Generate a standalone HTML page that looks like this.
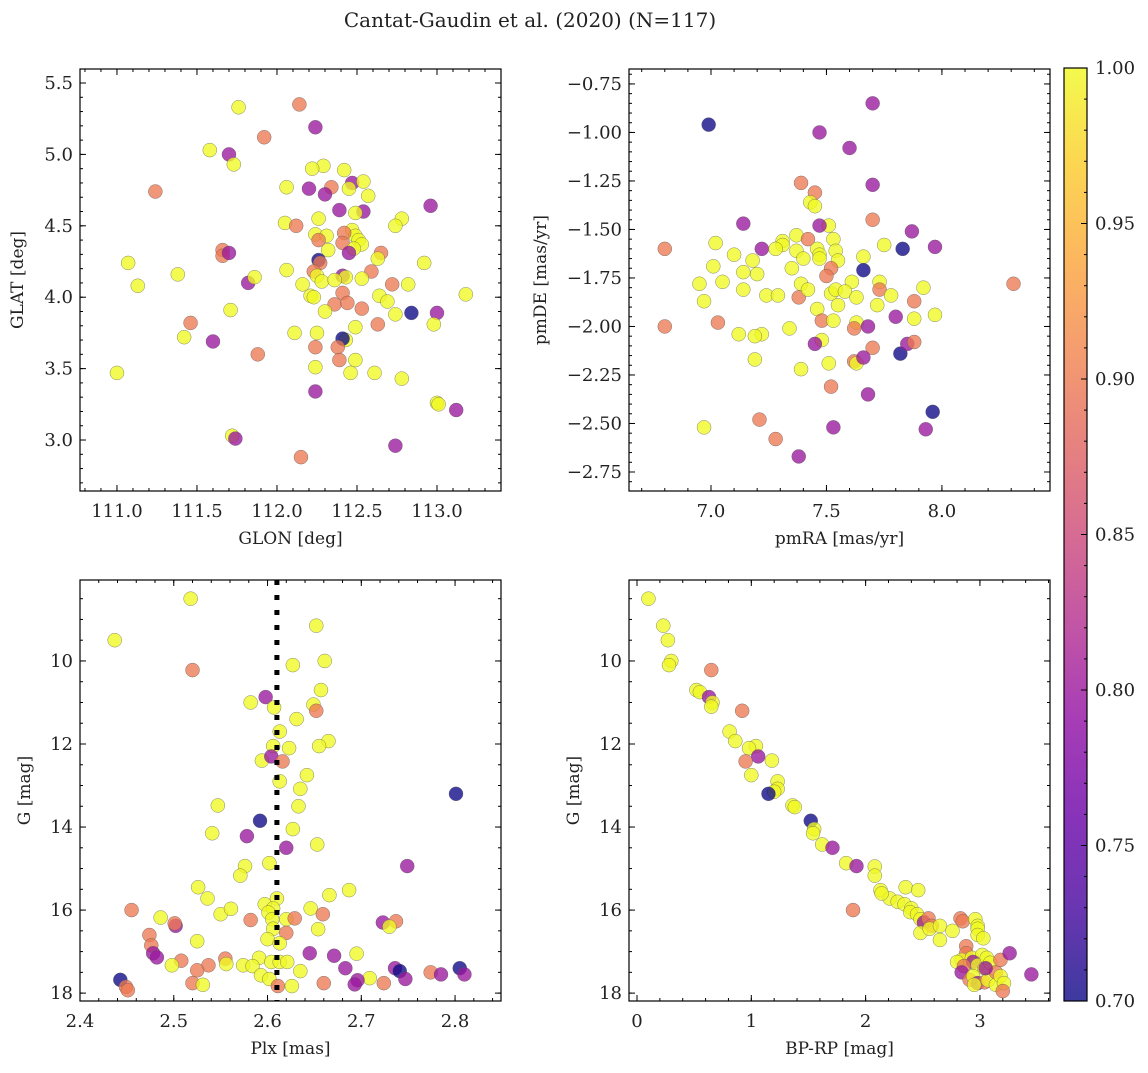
<!DOCTYPE html>
<html><head><meta charset="utf-8"><style>
body{margin:0;background:#fff;}
svg text{font-family:"DejaVu Serif","Liberation Serif",serif;fill:#222;}
</style></head><body>
<svg id="fig" width="1148" height="1068" viewBox="0 0 1148 1068" xmlns="http://www.w3.org/2000/svg">
<defs>
<linearGradient id="cbg" x1="0" y1="1" x2="0" y2="0">
<stop offset="0" stop-color="#3d3a9f"/><stop offset="0.1" stop-color="#6a36b1"/><stop offset="0.2" stop-color="#8833b9"/><stop offset="0.3" stop-color="#a63db6"/><stop offset="0.4" stop-color="#c155a6"/><stop offset="0.5" stop-color="#d66c93"/><stop offset="0.6" stop-color="#e7837e"/><stop offset="0.7" stop-color="#f59d6f"/><stop offset="0.8" stop-color="#fcb85e"/><stop offset="0.9" stop-color="#fcd751"/><stop offset="1" stop-color="#f3fa4d"/>
</linearGradient>
</defs>
<text x="530" y="27" font-size="20" text-anchor="middle">Cantat-Gaudin et al. (2020) (N=117)</text>
</svg>
<script>
// Panel data: [x, y, membership probability]
const posData=[[111.76,5.33,1],[112.14,5.35,.9],[112.24,5.19,.8],[111.92,5.12,.9],[111.58,5.03,1],[111.70,5.00,.8],[111.73,4.93,1],[112.29,4.92,1],[112.22,4.90,1],[112.42,4.89,1],[112.47,4.80,.8],[112.54,4.81,1],[112.45,4.76,1],[112.06,4.77,1],[112.20,4.76,.8],[112.34,4.77,.9],[112.30,4.72,.8],[112.57,4.71,1],[111.24,4.74,.9],[112.39,4.61,.8],[112.54,4.60,.8],[112.49,4.59,1],[112.26,4.55,1],[112.78,4.55,1],[112.74,4.50,1],[112.05,4.52,1],[112.12,4.50,.9],[112.47,4.47,1],[112.49,4.43,1],[112.42,4.45,.9],[112.24,4.44,1],[112.31,4.43,1],[112.51,4.40,1],[112.26,4.40,.9],[112.53,4.37,1],[112.41,4.38,.9],[112.48,4.34,1],[112.32,4.33,1],[112.96,4.64,.8],[111.66,4.33,.9],[111.66,4.29,.9],[111.70,4.31,.8],[112.26,4.26,.7],[112.27,4.24,.9],[112.45,4.31,.8],[112.65,4.31,.9],[111.07,4.24,1],[112.92,4.24,1],[112.63,4.27,1],[112.06,4.19,1],[112.23,4.18,.9],[112.25,4.15,1],[112.28,4.11,1],[112.41,4.15,.8],[112.43,4.14,1],[112.36,4.12,1],[112.59,4.18,.9],[111.38,4.16,1],[112.72,4.09,.9],[112.53,4.13,1],[111.13,4.08,1],[111.82,4.10,.8],[112.16,4.09,1],[112.82,4.09,1],[111.86,4.14,1],[112.21,4.01,1],[112.23,4.00,1],[112.64,4.01,1],[112.69,3.97,1],[113.18,4.02,1],[112.41,4.03,.9],[112.36,3.95,.9],[112.44,3.96,.9],[112.53,3.92,.9],[112.30,3.90,1],[113.00,3.89,.8],[112.84,3.89,.7],[112.74,3.88,1],[112.63,3.81,.9],[111.46,3.82,.9],[112.49,3.79,1],[112.11,3.75,1],[112.25,3.75,1],[112.43,3.70,1],[112.41,3.71,.7],[112.98,3.81,1],[111.71,3.91,1],[112.38,3.65,.9],[111.42,3.72,1],[112.24,3.65,.9],[111.60,3.69,.8],[111.88,3.60,.9],[112.39,3.56,.9],[112.49,3.56,1],[112.24,3.51,1],[112.61,3.47,1],[112.46,3.47,1],[111.00,3.47,1],[112.78,3.43,1],[112.24,3.34,.8],[113.00,3.26,1],[113.01,3.25,1],[113.12,3.21,.8],[111.72,3.03,1],[111.74,3.01,.8],[112.74,2.96,.8],[112.15,2.88,.9]];
const pmData=[[6.99,-0.96,.7],[7.70,-0.85,.8],[7.47,-1.00,.8],[7.60,-1.08,.8],[7.70,-1.27,.8],[7.39,-1.26,.9],[7.45,-1.31,.9],[7.43,-1.36,1],[7.45,-1.38,1],[7.70,-1.45,.9],[7.14,-1.47,.8],[7.51,-1.48,1],[7.47,-1.48,.8],[7.87,-1.51,.8],[7.37,-1.53,1],[7.31,-1.56,1],[7.31,-1.58,1],[7.42,-1.55,.9],[7.53,-1.55,1],[7.22,-1.60,.8],[7.02,-1.57,1],[6.80,-1.60,.9],[7.75,-1.58,1],[7.83,-1.60,.7],[7.97,-1.59,.8],[7.28,-1.60,1],[7.37,-1.61,1],[7.46,-1.60,1],[7.47,-1.63,1],[7.54,-1.61,1],[7.10,-1.63,1],[7.18,-1.66,1],[7.40,-1.65,1],[7.55,-1.66,1],[7.66,-1.64,1],[7.47,-1.65,1],[7.35,-1.70,1],[6.95,-1.78,1],[7.01,-1.69,1],[7.05,-1.77,1],[7.14,-1.72,1],[7.20,-1.73,1],[7.39,-1.78,1],[7.52,-1.70,.9],[7.61,-1.77,1],[7.66,-1.71,.7],[7.73,-1.77,1],[7.50,-1.74,.9],[7.14,-1.81,1],[7.24,-1.84,1],[7.29,-1.84,1],[7.38,-1.85,.9],[7.42,-1.81,1],[7.52,-1.83,1],[7.54,-1.81,1],[7.58,-1.82,1],[7.63,-1.85,1],[7.73,-1.81,.9],[7.78,-1.84,1],[7.88,-1.87,.9],[7.92,-1.80,1],[8.31,-1.78,.9],[6.97,-1.87,1],[7.46,-1.91,1],[7.55,-1.89,1],[7.72,-1.89,1],[7.80,-1.95,.8],[7.97,-1.94,1],[7.88,-1.96,1],[6.80,-2.00,.9],[7.03,-1.98,.9],[7.12,-2.04,1],[7.34,-2.01,1],[7.48,-1.97,.9],[7.53,-1.97,1],[7.63,-1.98,1],[7.62,-2.01,.9],[7.68,-2.00,.8],[7.22,-2.04,1],[7.19,-2.05,1],[7.48,-2.07,1],[7.45,-2.09,.8],[7.70,-2.11,.9],[7.82,-2.14,.7],[7.85,-2.09,.8],[7.88,-2.08,.9],[7.19,-2.17,1],[7.51,-2.19,1],[7.62,-2.18,.9],[7.63,-2.19,1],[7.66,-2.16,.8],[7.39,-2.22,1],[7.52,-2.31,.9],[7.68,-2.35,.8],[7.96,-2.44,.7],[7.21,-2.48,.9],[6.97,-2.52,1],[7.53,-2.52,.8],[7.93,-2.53,.8],[7.28,-2.58,.9],[7.38,-2.67,.8]];
const plxData=[[2.518,8.5,1],[2.437,9.5,1],[2.52,10.22,.9],[2.652,9.15,1],[2.627,10.1,1],[2.661,10.0,1],[2.598,10.87,.8],[2.582,11.0,1],[2.607,11.12,1],[2.631,11.4,1],[2.649,11.05,1],[2.652,11.2,.9],[2.657,10.7,1],[2.613,11.7,1],[2.665,11.93,1],[2.655,12.05,1],[2.606,12.05,1],[2.623,12.1,1],[2.594,12.4,1],[2.604,12.3,.8],[2.616,12.42,.9],[2.642,12.75,1],[2.613,12.9,1],[2.635,13.08,1],[2.547,13.48,1],[2.633,13.5,1],[2.592,13.85,.7],[2.801,13.2,.7],[2.627,14.05,1],[2.578,14.22,.8],[2.541,14.15,1],[2.62,14.5,.8],[2.653,14.42,1],[2.602,14.87,1],[2.576,14.94,1],[2.749,14.94,.8],[2.571,15.17,1],[2.61,15.72,1],[2.687,15.52,1],[2.666,15.64,1],[2.526,15.45,1],[2.536,15.72,1],[2.597,15.86,1],[2.606,15.96,1],[2.646,15.96,1],[2.659,16.1,.9],[2.455,16.0,.9],[2.601,16.06,1],[2.55,16.1,1],[2.561,15.97,1],[2.486,16.18,1],[2.582,16.24,.9],[2.605,16.22,1],[2.62,16.22,1],[2.629,16.2,.9],[2.723,16.3,.8],[2.737,16.27,.9],[2.73,16.4,1],[2.502,16.38,.8],[2.501,16.32,.9],[2.654,16.46,1],[2.606,16.45,1],[2.62,16.55,.9],[2.525,16.75,1],[2.474,16.6,.9],[2.6,16.7,1],[2.613,16.8,1],[2.476,16.85,.9],[2.645,17.04,.8],[2.478,17.04,.8],[2.671,17.1,.8],[2.695,17.05,1],[2.482,17.14,.8],[2.508,17.22,.9],[2.555,17.17,.9],[2.591,17.15,1],[2.604,17.25,1],[2.613,17.25,1],[2.556,17.3,1],[2.498,17.33,1],[2.537,17.33,.9],[2.574,17.33,1],[2.584,17.35,1],[2.621,17.25,1],[2.736,17.4,.8],[2.683,17.4,.8],[2.741,17.47,.7],[2.774,17.5,.9],[2.805,17.4,.7],[2.525,17.45,.9],[2.635,17.47,1],[2.593,17.57,1],[2.709,17.64,1],[2.747,17.66,.8],[2.696,17.69,.8],[2.52,17.76,.9],[2.531,17.8,1],[2.66,17.76,.9],[2.693,17.79,.8],[2.724,17.76,.9],[2.785,17.55,.8],[2.81,17.55,.8],[2.602,17.66,1],[2.626,17.83,1],[2.443,17.68,.7],[2.449,17.85,.9],[2.451,17.93,.9],[2.611,17.83,.9]];
const cmdData=[[0.1,8.5,1],[0.23,9.15,1],[0.27,9.5,1],[0.3,10.0,1],[0.28,10.1,1],[0.65,10.22,.9],[0.52,10.7,1],[0.55,10.75,1],[0.63,10.87,.8],[0.66,11.0,1],[0.65,11.1,1],[0.92,11.2,.9],[0.81,11.7,1],[0.86,11.93,1],[1.04,12.05,1],[0.98,12.1,1],[1.06,12.3,.8],[1.18,12.4,1],[0.95,12.42,.9],[1.0,12.75,1],[1.23,12.9,1],[1.23,13.08,1],[1.2,13.15,1],[1.15,13.2,.7],[1.36,13.48,1],[1.38,13.52,1],[1.52,13.85,.7],[1.55,14.05,1],[1.54,14.15,1],[1.62,14.42,1],[1.71,14.5,.8],[1.83,14.87,1],[1.92,14.94,.8],[2.08,14.95,1],[2.08,15.17,1],[2.13,15.52,1],[2.21,15.72,1],[2.14,15.6,1],[2.28,15.8,1],[2.35,15.45,1],[2.46,15.52,1],[1.89,16.0,.9],[2.34,15.86,1],[2.4,15.96,1],[2.39,16.05,1],[2.45,16.1,1],[2.48,16.22,1],[2.51,16.3,.8],[2.55,16.2,.9],[2.58,16.38,.9],[2.48,16.55,1],[2.56,16.45,1],[2.65,16.38,1],[2.65,16.72,1],[2.76,16.5,1],[2.83,16.2,.9],[2.85,16.27,.9],[2.96,16.22,1],[2.98,16.38,1],[2.98,16.45,1],[2.98,16.6,1],[3.03,16.68,1],[2.88,16.87,.9],[2.88,17.04,.9],[2.84,17.2,1],[2.8,17.25,1],[2.93,17.15,1],[3.02,17.08,1],[2.94,17.25,.8],[2.98,17.33,1],[2.86,17.35,.9],[3.04,17.4,1],[3.06,17.15,1],[3.09,17.27,1],[2.84,17.5,.8],[2.91,17.68,.9],[2.94,17.59,1],[2.98,17.76,.8],[3.04,17.74,.9],[3.07,17.69,1],[3.14,17.5,.9],[3.14,17.8,1],[3.18,17.59,1],[3.21,17.76,1],[3.05,17.4,.8],[3.18,17.2,.9],[3.26,17.04,.8],[3.2,17.95,.9],[3.45,17.55,.8],[2.95,17.8,1]];
const plxCut=[2.61];
const cbTicks=[0.70,0.75,0.80,0.85,0.90,0.95,1.00];

const NS='http://www.w3.org/2000/svg';
const svg=document.getElementById('fig');
function mk(t,a,p){const e=document.createElementNS(NS,t);for(const k in a)e.setAttribute(k,a[k]);(p||svg).appendChild(e);return e;}
const stops=[[13,8,135],[65,4,157],[106,0,168],[143,13,164],[177,42,144],[204,71,120],[225,100,98],[242,132,75],[252,166,54],[252,206,37],[240,249,33]];
function plasma(v){let t=Math.max(0,Math.min(1,(v-0.7)/0.3))*10;const i=Math.min(9,Math.floor(t)),f=t-i;const a=stops[i],b=stops[i+1];return 'rgb('+a.map((c,k)=>Math.round(c+(b[k]-c)*f)).join(',')+')';}
function ticks(lo,hi,step){const r=[];const s=Math.ceil(lo/step-1e-9);for(let i=s;i*step<=hi+1e-9;i++)r.push(+(i*step).toFixed(6));return r;}

function panel(o){
  const g=mk('g',{});  
  const X=v=>o.x0+(v-o.xr[0])/(o.xr[1]-o.xr[0])*(o.x1-o.x0);
  const Y=v=>o.inv? o.y0+(v-o.yr[0])/(o.yr[1]-o.yr[0])*(o.y1-o.y0) : o.y1-(v-o.yr[0])/(o.yr[1]-o.yr[0])*(o.y1-o.y0);
  const cid='c'+o.name; const cp=mk('clipPath',{id:cid},g); mk('rect',{x:o.x0,y:o.y0,width:o.x1-o.x0,height:o.y1-o.y0},cp);
  const pg=mk('g',{'clip-path':'url(#'+cid+')'},g);
  o.data.forEach(d=>{const c=mk('circle',{cx:X(d[0]),cy:Y(d[1]),r:7,fill:plasma(d[2]),'fill-opacity':0.78,stroke:'#555','stroke-width':0.5,'stroke-opacity':0.7},pg);
    
    });
  if(o.vline){o.vline.forEach(v=>{const l=mk('line',{x1:X(v),x2:X(v),y1:o.y0,y2:o.y1,stroke:'#000','stroke-width':5,'stroke-dasharray':'5,10'},pg);
    
    });}
  const tk={stroke:'#000','stroke-width':1};
  const yrMin=Math.min(...o.yr),yrMax=Math.max(...o.yr);
  ticks(o.xr[0],o.xr[1],o.xminor).forEach(v=>{const x=X(v);mk('line',Object.assign({x1:x,x2:x,y1:o.y1,y2:o.y1-3},tk),g);mk('line',Object.assign({x1:x,x2:x,y1:o.y0,y2:o.y0+3},tk),g);});
  ticks(yrMin,yrMax,o.yminor).forEach(v=>{const y=Y(v);mk('line',Object.assign({x1:o.x0,x2:o.x0+3,y1:y,y2:y},tk),g);mk('line',Object.assign({x1:o.x1,x2:o.x1-3,y1:y,y2:y},tk),g);});
  ticks(o.xr[0],o.xr[1],o.xmajor).forEach(v=>{const x=X(v);mk('line',Object.assign({x1:x,x2:x,y1:o.y1,y2:o.y1-6},tk),g);mk('line',Object.assign({x1:x,x2:x,y1:o.y0,y2:o.y0+6},tk),g);
    const t=mk('text',{x:x,y:o.y1+26,'font-size':18,'text-anchor':'middle'},g);t.textContent=v.toFixed(o.xdec);
    
    });
  ticks(yrMin,yrMax,o.ymajor).forEach(v=>{const y=Y(v);mk('line',Object.assign({x1:o.x0,x2:o.x0+6,y1:y,y2:y},tk),g);mk('line',Object.assign({x1:o.x1,x2:o.x1-6,y1:y,y2:y},tk),g);
    const t=mk('text',{x:o.x0-7,y:y+6,'font-size':18,'text-anchor':'end'},g);t.textContent=v.toFixed(o.ydec).replace('-','\u2212');
    
    });
  mk('rect',{x:o.x0,y:o.y0,width:o.x1-o.x0,height:o.y1-o.y0,fill:'none',stroke:'#000','stroke-width':1.2},g);
  const xl=mk('text',{x:(o.x0+o.x1)/2,y:o.y1+53,'font-size':17,'text-anchor':'middle'},g);xl.textContent=o.xlabel;
  
  
  const yx=o.ylx, yy=(o.y0+o.y1)/2;
  const yl=mk('text',{x:yx,y:yy,'font-size':17,'text-anchor':'middle',transform:'rotate(-90 '+yx+' '+yy+')'},g);yl.textContent=o.ylabel;
  
  
}
panel({name:'position-panel',data:posData,x0:80,x1:501,y0:69,y1:491,xr:[110.769,113.4],yr:[2.643,5.598],xmajor:0.5,xminor:0.1,ymajor:0.5,yminor:0.1,xdec:1,ydec:1,xlabel:'GLON [deg]',ylabel:'GLAT [deg]',ylx:23});
panel({name:'proper-motion-panel',data:pmData,x0:629,x1:1050,y0:69,y1:491,xr:[6.645,8.468],yr:[-2.848,-0.673],xmajor:0.5,xminor:0.1,ymajor:0.25,yminor:0.05,xdec:1,ydec:2,xlabel:'pmRA [mas/yr]',ylabel:'pmDE [mas/yr]',ylx:546});
panel({name:'parallax-panel',data:plxData,x0:80,x1:501,y0:580,y1:1001,xr:[2.4,2.849],yr:[8.05,18.19],inv:true,xmajor:0.1,xminor:0.02,ymajor:2,yminor:0.5,xdec:1,ydec:0,xlabel:'Plx [mas]',ylabel:'G [mag]',ylx:30,vline:plxCut});
panel({name:'cmd-panel',data:cmdData,x0:629,x1:1050,y0:580,y1:1001,xr:[-0.07,3.613],yr:[8.05,18.19],inv:true,xmajor:1,xminor:0.2,ymajor:2,yminor:0.5,xdec:0,ydec:0,xlabel:'BP-RP [mag]',ylabel:'G [mag]',ylx:579});

// colorbar
const cb=mk('g',{});  
const cy0=68,cy1=1001,cx0=1064,cx1=1087;
mk('rect',{x:cx0,y:cy0,width:cx1-cx0,height:cy1-cy0,fill:'url(#cbg)',stroke:'#000','stroke-width':1.2},cb);
const CY=v=>cy1-(v-0.7)/0.3*(cy1-cy0);
ticks(0.7,1.0,0.01).forEach(v=>{mk('line',{x1:cx1,x2:cx1-3,y1:CY(v),y2:CY(v),stroke:'#000'},cb);});
cbTicks.forEach(v=>{const y=CY(v);mk('line',{x1:cx1,x2:cx1-6,y1:y,y2:y,stroke:'#000'},cb);
  const t=mk('text',{x:1095,y:y+6,'font-size':18},cb);t.textContent=v.toFixed(2);
  
  });
</script>
</body></html>
